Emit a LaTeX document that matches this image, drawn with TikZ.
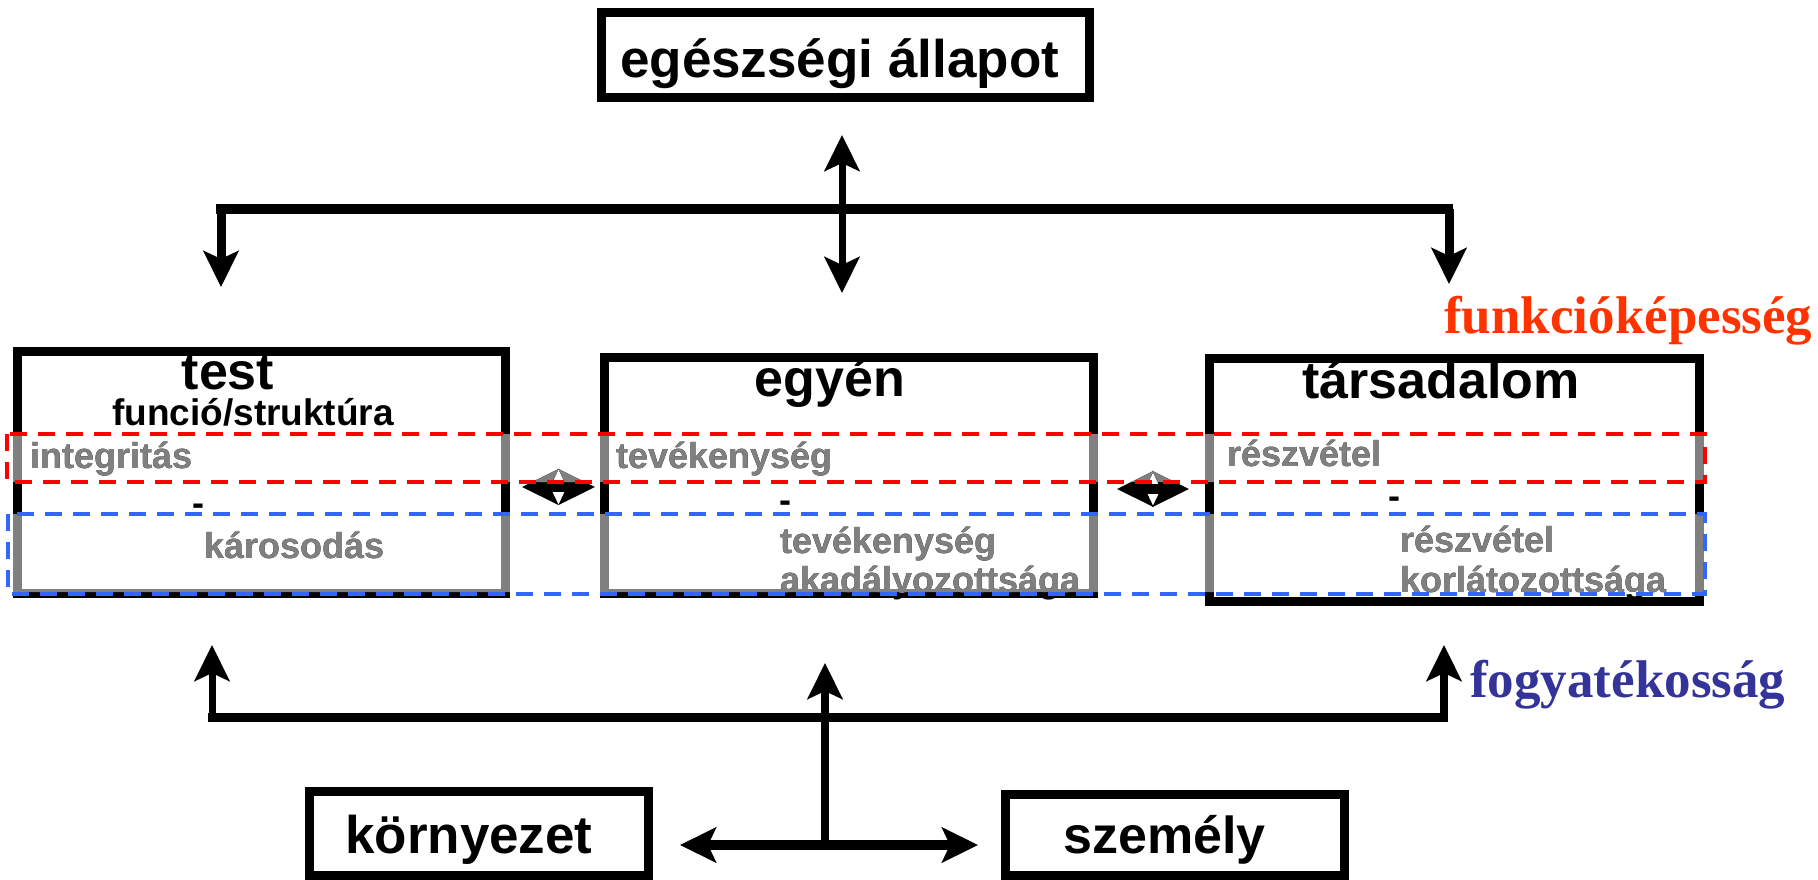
\documentclass[tikz,border=0pt]{standalone}
\usepackage{fontspec}
\setmainfont{Liberation Sans}
\newfontfamily\timesface{Liberation Serif}
\usetikzlibrary{arrows.meta}

\definecolor{bandgray}{RGB}{128,128,128}
\definecolor{bandred}{RGB}{255,0,0}
\definecolor{bandblue}{RGB}{51,102,255}
\definecolor{titlered}{RGB}{255,51,0}
\definecolor{titleblue}{RGB}{51,51,153}
\colorlet{ink}{black}

\newcommand\fsz[1]{\fontsize{#1}{#1}\selectfont}

\tikzset{
  >={Stealth[length=36pt,width=35pt,inset=8pt]},
  frame/.style={draw=ink, line width=9pt, inner sep=0pt, outer sep=0pt},
  bandtext/.style={inner sep=0pt, anchor=base west, text=ink, font=\bfseries\fsz{36}},
  heading/.style={inner sep=0pt, anchor=base, font=\bfseries\fsz{52}},
  boxtext/.style={inner sep=0pt, anchor=base west, font=\bfseries\fsz{#1}},
  minus/.style={inner sep=0pt, anchor=base, font=\bfseries\fsz{36}},
  sidelabel/.style={inner sep=0pt, anchor=base west, font=\timesface\bfseries\fsz{53}},
  bandline/.style={line width=4pt, dash pattern=on 17pt off 11pt},
}

% the three middle boxes with their band texts and the arrows between them,
% drawn in the colour given as #2
\newcommand\midlayer[2]{%
  \colorlet{ink}{#2}%
  \node[frame, minimum width=488pt, minimum height=242pt] (test#1) at (261.5,472.5) {};
  \node[frame, minimum width=489pt, minimum height=236pt] (egyen#1) at (849,475.5) {};
  \node[frame, minimum width=490pt, minimum height=243pt] (tars#1) at (1454.5,480) {};
  \node[bandtext] (integ#1) at (30,468) {integritás};
  \node[bandtext] (karos#1) at (204,558) {károsodás};
  \node[bandtext] (tevek#1) at (616,468) {tevékenység};
  \node[bandtext] (tevekb#1) at (780,553) {tevékenység};
  \node[bandtext] (akad#1) at (780,592) {akadályozottsága};
  \node[bandtext] (reszv#1) at (1227,466) {részvétel};
  \node[bandtext] (reszvb#1) at (1400,552) {részvétel};
  \node[bandtext] (korl#1) at (1400,592) {korlátozottsága};
  \draw[ink, line width=10pt, <->] (sa1) -- (sa2);
  \draw[ink, line width=10pt, <->] (sb1) -- (sb2);
}

\begin{document}
\begin{tikzpicture}[x=1pt, y=-1pt]
  \useasboundingbox (0,0) rectangle (1818,880);
  \fill[white] (0,0) rectangle (1818,880);

  % end points of the short arrows between the boxes
  \coordinate (sa1) at (522,487);
  \coordinate (sa2) at (595,487);
  \coordinate (sb1) at (1117,489);
  \coordinate (sb2) at (1189,489);

  \midlayer{}{black}

  % headings inside the middle boxes
  \node[heading] (testt) at (228,389) {test};
  \node[inner sep=0pt, anchor=base, font=\bfseries\fsz{37}] (funcstr) at (253,425) {funció/struktúra};
  \node[heading] (egyent) at (830,396) {egyén};
  \node[heading] (tarst) at (1441,398) {társadalom};
  \node[minus] (m1) at (198,515) {-};
  \node[minus] (m2) at (785,512) {-};
  \node[minus] (m3) at (1394,508) {-};

  % grey overlay over the two bands
  \begin{scope}
    \clip (0,434) rectangle (1818,482) (0,514) rectangle (1818,592);
    \midlayer{g}{bandgray}
  \end{scope}

  % dashed bands
  \draw[bandline, draw=bandred] (7,434) rectangle (1705,482);
  \draw[bandline, draw=bandblue] (8,514) rectangle (1705,594);

  % side labels
  \node[sidelabel, text=titlered] (funk) at (1444,333) {funkcióképesség};
  \node[sidelabel, text=titleblue] (fogy) at (1470,697) {fogyatékosság};

  % top box and its connectors
  \node[frame, minimum width=488pt, minimum height=85pt] (health) at (845.5,55) {};
  \node[boxtext=53] (healtht) at (620,78) {egészségi állapot};

  \coordinate (hu) at (842,135);
  \coordinate (hd) at (842,293);
  \draw[line width=7pt, <->] (hu) -- (hd);

  \coordinate (tl) at (216,209);
  \coordinate (tr) at (1453,209);
  \draw[line width=10pt] (tl) -- (tr);
  \coordinate (dl0) at (221,209);
  \coordinate (dl1) at (221,287);
  \coordinate (dr0) at (1449,209);
  \coordinate (dr1) at (1449,284);
  \draw[line width=9pt, ->] (dl0) -- (dl1);
  \draw[line width=9pt, ->] (dr0) -- (dr1);

  % bottom boxes and their connectors
  \node[frame, minimum width=339pt, minimum height=84pt] (env) at (479,833.5) {};
  \node[boxtext=53] (envt) at (345,853) {környezet};
  \node[frame, minimum width=339pt, minimum height=81pt] (pers) at (1175,835) {};
  \node[boxtext=52] (perst) at (1063,853) {személy};

  \coordinate (bl) at (208,717);
  \coordinate (br) at (1448,717);
  \draw[line width=9pt] (bl) -- (br);
  \coordinate (ul0) at (212,717);
  \coordinate (ul1) at (212,645);
  \coordinate (ur0) at (1444,717);
  \coordinate (ur1) at (1444,645);
  \draw[line width=7pt, ->] (ul0) -- (ul1);
  \draw[line width=8pt, ->] (ur0) -- (ur1);
  \coordinate (cv0) at (825,845);
  \coordinate (cv1) at (825,663);
  \draw[line width=8pt, ->] (cv0) -- (cv1);
  \coordinate (eh0) at (680,845);
  \coordinate (eh1) at (978,845);
  \draw[line width=10pt, <->] (eh0) -- (eh1);
\end{tikzpicture}
\end{document}
